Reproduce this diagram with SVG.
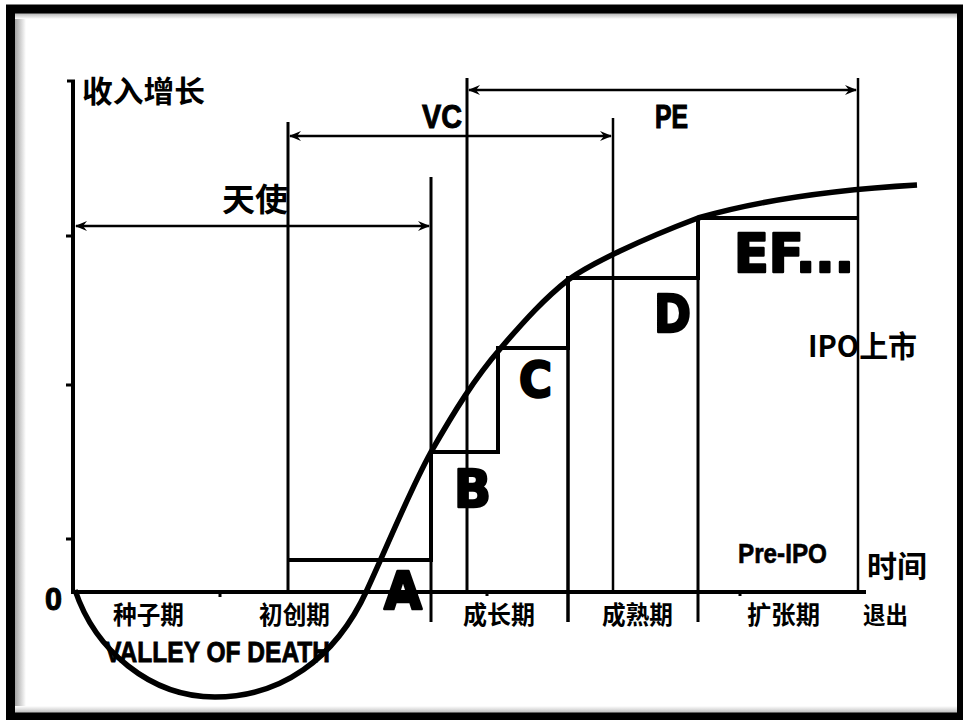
<svg xmlns="http://www.w3.org/2000/svg" width="963" height="720" viewBox="0 0 963 720">
<defs>
<linearGradient id="shL" x1="0" y1="0" x2="1" y2="0"><stop offset="0" stop-color="#9a9a9a"/><stop offset="1" stop-color="#ffffff"/></linearGradient>
<linearGradient id="shT" x1="0" y1="0" x2="0" y2="1"><stop offset="0" stop-color="#b0b0b0"/><stop offset="1" stop-color="#ffffff"/></linearGradient>
<linearGradient id="shB" x1="0" y1="1" x2="0" y2="0"><stop offset="0" stop-color="#b0b0b0"/><stop offset="1" stop-color="#ffffff"/></linearGradient>
<marker id="ah" viewBox="0 0 12 10" refX="11" refY="5" markerWidth="12" markerHeight="10" markerUnits="userSpaceOnUse" orient="auto-start-reverse">
<path d="M0,0 L12,5 L0,10 L4,5 Z" fill="#000"/>
</marker>
<style>
.cjk{font-family:"Noto Sans CJK SC","Noto Sans",sans-serif;font-weight:700;fill:#000}
.lat{font-family:"Liberation Sans",Arial,sans-serif;font-weight:700;fill:#000}
.big{font-family:"DejaVu Sans","Liberation Sans",sans-serif;font-weight:700;fill:#000;stroke:#000;stroke-width:2.5;stroke-linejoin:round}
.ln{stroke:#000;fill:none;stroke-linecap:butt}
</style>
</defs>
<rect x="0" y="0" width="963" height="720" fill="#fff"/>
<rect x="14" y="13" width="12" height="700" fill="url(#shL)"/>
<rect x="14" y="13" width="944" height="6" fill="url(#shT)"/>
<rect x="14" y="706" width="944" height="8" fill="url(#shB)"/>
<rect x="10.5" y="9" width="951" height="708" fill="none" stroke="#000" stroke-width="9"/>

<g id="axes">
<path class="ln" d="M73,80 V592 H866" stroke-width="4"/>
<path class="ln" d="M67,81 H75" stroke-width="3"/>
<path class="ln" d="M66,236 H73 M66,385 H73 M66,539 H73" stroke-width="3"/>
<path class="ln" d="M220,590 V597 M487,590 V596 M740,590 V596" stroke-width="3"/>
</g>

<g id="dividers">
<path class="ln" d="M288,122 V592" stroke-width="3"/>
<path class="ln" d="M431,177 V622" stroke-width="3"/>
<path class="ln" d="M467,78 V590" stroke-width="3"/>
<path class="ln" d="M613,118 V590" stroke-width="2.5"/>
<path class="ln" d="M858,78 V590" stroke-width="2.5"/>
<path class="ln" d="M568,278 V622" stroke-width="3.5"/>
<path class="ln" d="M698,218 V622" stroke-width="3"/>
</g>

<g id="connectors">
<line class="ln" x1="76" y1="226" x2="429" y2="226" stroke-width="2.5" marker-start="url(#ah)" marker-end="url(#ah)"/>
<line class="ln" x1="290" y1="136" x2="611" y2="136" stroke-width="2.5" marker-start="url(#ah)" marker-end="url(#ah)"/>
<line class="ln" x1="469" y1="90" x2="856" y2="90" stroke-width="2.5" marker-start="url(#ah)" marker-end="url(#ah)"/>
</g>

<g id="steps">
<path class="ln" d="M288,560 H431 V452 H498 V348 H568 V278 H698 V218 H858" stroke-width="4" stroke-linejoin="miter"/>
</g>

<g id="curve">
<path class="ln" d="M75,590 C95,650 150,697 215,697 C280,697 335,660 367,590 C390,540 410,490 431,452 C455,410 475,378 500,349 C525,320 545,298 568,280 C590,264 640,240 698,218 C760,200 830,190 917,185" stroke-width="5.5"/>
</g>

<g id="labels">
<text class="cjk" x="82" y="102" font-size="30" textLength="123" lengthAdjust="spacingAndGlyphs">收入增长</text>
<text class="cjk" x="222" y="211" font-size="32" textLength="66" lengthAdjust="spacingAndGlyphs">天使</text>
<text class="lat" x="422" y="128" font-size="34" stroke="#000" stroke-width="1" textLength="40" lengthAdjust="spacingAndGlyphs">VC</text>
<text class="lat" x="655" y="128" font-size="34" font-weight="400" stroke="#000" stroke-width="1.2" textLength="33" lengthAdjust="spacingAndGlyphs">PE</text>
<text class="lat" x="45" y="610" font-size="31" font-weight="400" stroke="#000" stroke-width="1" textLength="17" lengthAdjust="spacingAndGlyphs">0</text>
<text class="cjk" x="113" y="624" font-size="25" textLength="71" lengthAdjust="spacingAndGlyphs">种子期</text>
<text class="cjk" x="259" y="624" font-size="25" textLength="71" lengthAdjust="spacingAndGlyphs">初创期</text>
<text class="cjk" x="463" y="624" font-size="25" textLength="72" lengthAdjust="spacingAndGlyphs">成长期</text>
<text class="cjk" x="602" y="624" font-size="25" textLength="71" lengthAdjust="spacingAndGlyphs">成熟期</text>
<text class="cjk" x="747" y="624" font-size="25" textLength="73" lengthAdjust="spacingAndGlyphs">扩张期</text>
<text class="cjk" x="863" y="624" font-size="24" textLength="45" lengthAdjust="spacingAndGlyphs">退出</text>
<text class="cjk" x="867" y="577" font-size="30" textLength="60" lengthAdjust="spacingAndGlyphs">时间</text>
<text class="lat" x="105" y="662" font-size="29" stroke="#000" stroke-width="0.8" textLength="225" lengthAdjust="spacingAndGlyphs">VALLEY OF DEATH</text>
<text class="lat" x="738" y="563" font-size="27" font-weight="400" stroke="#000" stroke-width="0.6" textLength="89" lengthAdjust="spacingAndGlyphs">Pre-IPO</text>
<text class="cjk" x="808" y="357" font-size="30" textLength="109" lengthAdjust="spacingAndGlyphs">IPO上市</text>
<text class="big" x="384" y="609" font-size="51" textLength="38" lengthAdjust="spacingAndGlyphs">A</text>
<text class="big" x="454" y="507" font-size="52" textLength="37" lengthAdjust="spacingAndGlyphs">B</text>
<text class="big" x="519" y="397" font-size="50" textLength="33" lengthAdjust="spacingAndGlyphs">C</text>
<text class="big" x="654" y="332" font-size="52" textLength="37" lengthAdjust="spacingAndGlyphs">D</text>
<text class="big" x="734" y="272" font-size="54" textLength="120" lengthAdjust="spacingAndGlyphs">EF...</text>
</g>
</svg>
